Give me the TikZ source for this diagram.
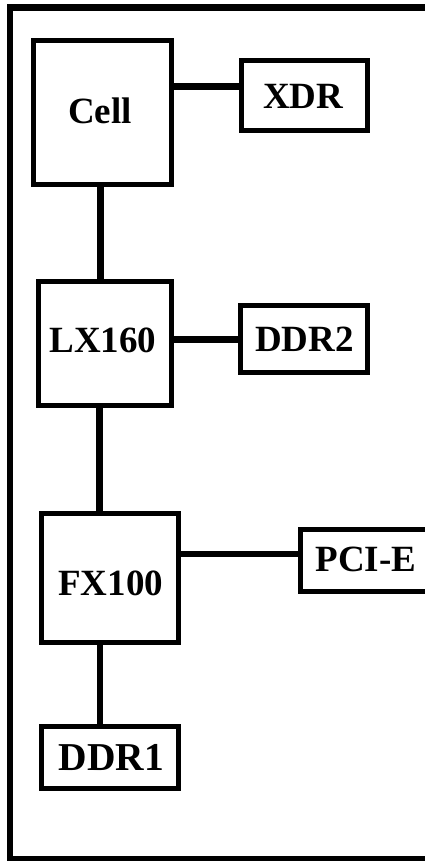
\documentclass[tikz,border=0pt]{standalone}
\usepackage{fontspec}
\setmainfont{Liberation Serif}
\begin{document}
\begin{tikzpicture}[x=1pt,y=-1pt,
  box/.style={draw=black,line width=5pt,rectangle,inner sep=0pt,outer sep=0pt,fill=white},
  txt/.style={inner sep=0pt,font=\fontsize{37}{40}\selectfont\bfseries},
  wire/.style={line width=6.5pt,line cap=butt}]
\useasboundingbox (0,0) rectangle (425,861);
\clip (0,0) rectangle (425,861);
\fill[white] (0,0) rectangle (425,861);
\draw[line width=6.3pt] (10.3,7.6) rectangle (445,858.8);
% boxes
\node[box,minimum width=138.6pt,minimum height=144pt] (cell) at (102.5,112.2) {};
\node[box,minimum width=125.8pt,minimum height=70pt] (xdr) at (304.6,95.5) {};
\node[box,minimum width=133.6pt,minimum height=123.4pt] (lx) at (105,343.5) {};
\node[box,minimum width=127.5pt,minimum height=66.8pt] (ddr2) at (303.75,338.9) {};
\node[box,minimum width=136.8pt,minimum height=128.6pt] (fx) at (109.9,578) {};
\node[box,minimum width=139.5pt,minimum height=62.3pt] (pcie) at (370.25,560.15) {};
\node[box,minimum width=136.8pt,minimum height=61.9pt] (ddr1) at (109.9,757.25) {};
% texts
\node[txt] (cellt) at (100,111) {Cell};
\node[txt] (xdrt) at (303.3,96) {XDR};
\node[txt] (lxt) at (103,340.8) {LX160};
\node[txt] (ddr2t) at (304.5,339.5) {DDR2};
\node[txt] (fxt) at (110.8,583.8) {FX100};
\node[txt] (pciet) at (366,559) {PCI-E};
\node[txt,font=\fontsize{39.5}{42}\selectfont\bfseries] (ddr1t) at (111.3,757) {DDR1};
% connector guides
\coordinate (h1) at (0,86.3);
\coordinate (h2) at (0,339.3);
\coordinate (h3) at (0,553.8);
\coordinate (v1) at (100.5,0);
\coordinate (v2) at (99.5,0);
\coordinate (v3) at (100,0);
% connectors
\draw[wire] (h1 -| cell.east) -- (h1 -| xdr.west);
\draw[wire] (h2 -| lx.east) -- (h2 -| ddr2.west);
\draw[wire] (h3 -| fx.east) -- (h3 -| pcie.west);
\draw[wire] (v1 |- cell.south) -- (v1 |- lx.north);
\draw[wire] (v2 |- lx.south) -- (v2 |- fx.north);
\draw[wire] (v3 |- fx.south) -- (v3 |- ddr1.north);
\end{tikzpicture}
\end{document}
